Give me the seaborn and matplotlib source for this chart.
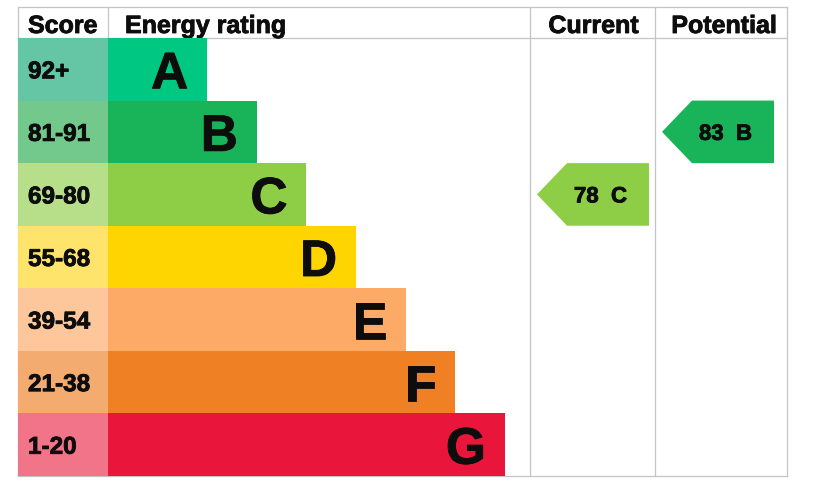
import numpy as np
import pandas as pd
import matplotlib
matplotlib.use('Agg')
import matplotlib.pyplot as plt
import matplotlib.patheffects as pe
from matplotlib.patches import Polygon
import seaborn as sns

# chart data
bands = ['A', 'B', 'C', 'D', 'E', 'F', 'G']
score_ranges = ['92+', '81-91', '69-80', '55-68', '39-54', '21-38', '1-20']
bar_units = [2, 3, 4, 5, 6, 7, 8]
band_colors = ['#00c781', '#19b459', '#8dce46', '#ffd500', '#fcaa65', '#ef8023', '#e9153b']
score_colors = ['#64c6a4', '#72c98b', '#b7df8a', '#fee46b', '#fdc69b', '#f3ab70', '#f27489']
headers = ['Score', 'Energy rating', 'Current', 'Potential']
current_score, current_band = 78, 'C'
potential_score, potential_band = 83, 'B'

# layout in pixels
W, H = 820, 492
LEFT, RIGHT = 18, 787
TOP, HEAD, BOTTOM = 7, 38, 476
SCORE_X, CUR_X, POT_X = 108, 530, 655
UNIT = 49.6
ARROW_W, ARROW_TIP, ARROW_PAD = 112, 30, 7
LINE = '#c4c4c4'
INK = '#0d0d0d'

plt.rcParams['font.family'] = ['Liberation Sans', 'DejaVu Sans']
heavy = [pe.withStroke(linewidth=0.6, foreground=INK)]

fig = plt.figure(figsize=(8.2, 4.92), dpi=100)

# background axes in pixel coordinates: grid lines and headers
bg = fig.add_axes([0, 0, 1, 1])
bg.set_xlim(0, W)
bg.set_ylim(H, 0)
bg.axis('off')

lw = 0.9
for y in (TOP, HEAD, BOTTOM):
    bg.plot([LEFT, RIGHT], [y, y], color=LINE, lw=lw)
for x in (LEFT, CUR_X, POT_X, RIGHT):
    bg.plot([x, x], [TOP, BOTTOM], color=LINE, lw=lw)
bg.plot([SCORE_X, SCORE_X], [TOP, HEAD], color=LINE, lw=lw)

head_y = (TOP + HEAD) / 2 + 1
head_kw = dict(fontsize=18, fontweight='bold', color=INK, va='center_baseline', path_effects=heavy)
bg.text(LEFT + 10, head_y, headers[0], ha='left', **head_kw)
bg.text(SCORE_X + 17, head_y, headers[1], ha='left', **head_kw)
bg.text((CUR_X + POT_X) / 2 + 1, head_y, headers[2], ha='center', **head_kw)
bg.text((POT_X + RIGHT) / 2 + 3, head_y, headers[3], ha='center', **head_kw)

# body axes: x in pixels, y categorical bands
ax = fig.add_axes([0, (H - BOTTOM) / H, 1, (BOTTOM - HEAD) / H])
df = pd.DataFrame({
    'band': bands,
    'score': score_ranges,
    'length': np.array(bar_units) * UNIT,
    'cell': SCORE_X - LEFT,
})

sns.barplot(data=df, x='cell', y='band', hue='band', palette=dict(zip(bands, score_colors)),
            width=1, saturation=1, left=LEFT, legend=False, errorbar=None, ax=ax)
sns.barplot(data=df, x='length', y='band', hue='band', palette=dict(zip(bands, band_colors)),
            width=1, saturation=1, left=SCORE_X, legend=False, errorbar=None, ax=ax)

for i, row in df.iterrows():
    ax.text(LEFT + 10, i, row['score'], fontsize=17.5, fontweight='bold', color=INK,
            ha='left', va='center_baseline', path_effects=heavy)
    ax.text(SCORE_X + row['length'] - 19, i, row['band'], fontsize=37, fontweight='bold', color=INK,
            ha='right', va='center_baseline', path_effects=heavy)


def draw_arrow(col_x, score, band):
    i = bands.index(band)
    x0 = col_x + ARROW_PAD
    pts = [(x0, i), (x0 + ARROW_TIP, i - 0.5), (x0 + ARROW_W, i - 0.5),
           (x0 + ARROW_W, i + 0.5), (x0 + ARROW_TIP, i + 0.5)]
    ax.add_patch(Polygon(pts, closed=True, facecolor=band_colors[i], edgecolor='none'))
    ax.text(x0 + (ARROW_TIP / 2 + ARROW_W) / 2, i, f'{score}  {band}', fontsize=16, fontweight='bold',
            color=INK, ha='center', va='center_baseline', path_effects=heavy)


draw_arrow(CUR_X, current_score, current_band)
draw_arrow(POT_X, potential_score, potential_band)

ax.set_xlim(0, W)
ax.set_ylim(len(bands) - 0.5, -0.5)
ax.axis('off')

fig.savefig('out.png', dpi=100)
